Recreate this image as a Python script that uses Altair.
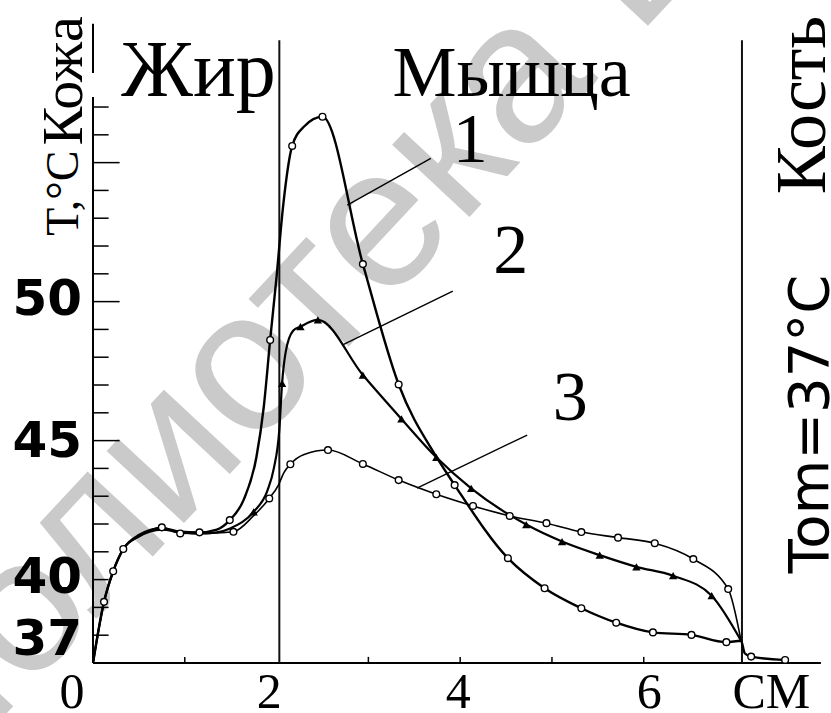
import altair as alt
import pandas as pd

# ---------------- data ----------------
# curve 1 (open circles, highest peak)
c1_x = [0, 0.12, 0.22, 0.33, 0.5, 0.75, 0.95, 1.16, 1.35, 1.49, 1.64, 1.78, 1.86, 1.93, 2.0, 2.07,
        2.17, 2.3, 2.5, 2.94, 3.33, 3.74, 3.94, 4.52, 4.92, 5.32, 5.70, 6.10, 6.52, 6.90, 7.06,
        7.10, 7.17, 7.54]
c1_y = [37, 39.2, 40.3, 41.1, 41.6, 41.85, 41.72, 41.7, 41.8, 42.14, 42.86, 44.4, 46.2, 48.62, 50.9,
        53.4, 55.6, 56.3, 56.65, 51.35, 47.02, 44.42, 43.4, 40.77, 39.69, 38.97, 38.45, 38.10, 38.01,
        37.75, 37.8, 37.35, 37.23, 37.11]
c1_mk = [0, 0, 0, 0, 0, 0, 0, 0, 0, 1, 0, 0, 0, 1, 0, 0, 1, 0, 1, 1, 1, 0, 1, 1, 1, 1, 1, 1, 1, 1, 0,
         0, 1, 1]

# curve 2 (filled triangles)
c2_x = [0, 0.12, 0.22, 0.33, 0.5, 0.75, 0.95, 1.16, 1.35, 1.5, 1.75, 1.9, 1.97, 2.03, 2.06, 2.1,
        2.18, 2.26, 2.45, 2.94, 3.36, 3.74, 4.12, 4.72, 5.11, 5.52, 5.92, 6.32, 6.74, 7.06]
c2_y = [37, 39.2, 40.3, 41.1, 41.55, 41.8, 41.7, 41.65, 41.7, 41.85, 42.44, 43.2, 44.0, 45.4, 47.06,
        48.2, 48.95, 49.1, 49.34, 47.36, 45.78, 44.4, 43.28, 41.98, 41.37, 40.88, 40.46, 40.14, 39.42,
        37.8]
c2_mk = [0, 0, 0, 0, 0, 0, 0, 0, 0, 0, 1, 0, 0, 0, 1, 0, 0, 1, 1, 1, 1, 1, 1, 1, 1, 1, 1, 1, 1, 0]

# curve 3 (open circles, lowest peak)
c3_x = [0, 0.12, 0.22, 0.33, 0.5, 0.75, 0.95, 1.16, 1.35, 1.53, 1.75, 1.92, 2.02, 2.08, 2.15, 2.3,
        2.56, 2.94, 3.33, 3.74, 4.14, 4.54, 4.94, 5.32, 5.72, 6.12, 6.54, 6.92, 7.06]
c3_y = [37, 39.2, 40.3, 41.1, 41.55, 41.88, 41.66, 41.7, 41.68, 41.72, 42.3, 42.92, 43.4, 43.85,
        44.15, 44.5, 44.66, 44.16, 43.58, 43.07, 42.65, 42.29, 42.03, 41.71, 41.51, 41.31, 40.74,
        39.66, 37.8]
c3_mk = [0, 1, 1, 1, 0, 1, 1, 1, 0, 1, 0, 1, 0, 0, 1, 0, 1, 1, 1, 1, 1, 1, 1, 1, 1, 1, 1, 1, 0]

# tissue boundaries (cm)
boundary_x = [2.03, 7.07]
boundary_top = 59.4

# leader lines from the curve numbers
lead_x1 = [2.77, 2.72, 3.53]
lead_y1 = [53.47, 48.44, 43.29]
lead_x2 = [3.68, 3.92, 4.73]
lead_y2 = [55.15, 50.38, 45.20]
num_text = ["1", "2", "3"]
num_x = [4.11, 4.55, 5.20]
num_y = [55.02, 51.03, 45.74]

# axis ticks and labels
y_minor = list(range(37, 58))
y_major = [45, 50, 55]
x_minor = [1, 3, 4, 5, 6]
ylab_text = ["37", "40", "45", "50"]
ylab_y = [37.83, 40.05, 44.95, 50.05]
xlab_text = ["0", "2", "4", "6", "СМ"]
xlab_x = [-0.23, 1.92, 3.98, 6.06, 7.39]

# region labels
reg_text = ["Жир", "Мышца"]
reg_x = [1.15, 4.56]

X = alt.Scale(domain=[0, 8.04], nice=False, zero=False)
Y = alt.Scale(domain=[37, 60.85], nice=False, zero=False)


def xy(xf="x", yf="y"):
    return dict(x=alt.X(f"{xf}:Q", scale=X, axis=None), y=alt.Y(f"{yf}:Q", scale=Y, axis=None))


def curve_df(xs, ys, mk):
    return pd.DataFrame({"x": xs, "y": ys, "m": mk})


d1 = curve_df(c1_x, c1_y, c1_mk)
d2 = curve_df(c2_x, c2_y, c2_mk)
d3 = curve_df(c3_x, c3_y, c3_mk)

layers = []

# watermark
wm = pd.DataFrame({"x": [3.59], "y": [54.4], "t": ["Библиотека БГУИР"]})
layers.append(alt.Chart(wm).mark_text(font="Liberation Sans", fontSize=200, angle=313,
                                      color="#cacaca", align="center", baseline="middle")
              .encode(text="t:N", **xy()))

# axes lines
ax_y = pd.DataFrame({"x": [0, 0], "y": [37, 58.22], "y2": [57.36, 60.0]})
layers.append(alt.Chart(ax_y).mark_rule(color="black", strokeWidth=2)
              .encode(y2="y2:Q", **xy()))
ax_x = pd.DataFrame({"x": [0], "x2": [7.93], "y": [37]})
layers.append(alt.Chart(ax_x).mark_rule(color="black", strokeWidth=2)
              .encode(x2="x2:Q", **xy()))

# ticks
ytk = pd.DataFrame({"y": y_minor, "x": [0] * len(y_minor),
                    "x2": [0.29 if v in y_major else 0.17 for v in y_minor]})
layers.append(alt.Chart(ytk).mark_rule(color="black", strokeWidth=1.5)
              .encode(x2="x2:Q", **xy()))
xtk = pd.DataFrame({"x": x_minor, "y": [37] * len(x_minor), "y2": [37.22] * len(x_minor)})
layers.append(alt.Chart(xtk).mark_rule(color="black", strokeWidth=1.5)
              .encode(y2="y2:Q", **xy()))

# boundaries
bd = pd.DataFrame({"x": boundary_x, "y": [37, 37], "y2": [boundary_top, boundary_top]})
layers.append(alt.Chart(bd).mark_rule(color="#111111", strokeWidth=2)
              .encode(y2="y2:Q", **xy()))

# leader lines
ld = pd.DataFrame({"x": lead_x1, "y": lead_y1, "x2": lead_x2, "y2": lead_y2})
layers.append(alt.Chart(ld).mark_rule(color="black", strokeWidth=1.4)
              .encode(x2="x2:Q", y2="y2:Q", **xy()))

# curves
for d, w in [(d3, 1.6), (d2, 2.2), (d1, 2.4)]:
    layers.append(alt.Chart(d).mark_line(color="black", strokeWidth=w, interpolate="monotone")
                  .encode(order="x:Q", **xy()))

for d in [d1, d3]:
    layers.append(alt.Chart(d).transform_filter("datum.m == 1")
                  .mark_point(shape="circle", size=45, filled=True, fill="white",
                              stroke="black", strokeWidth=1.4, opacity=1)
                  .encode(**xy()))
layers.append(alt.Chart(d2).transform_filter("datum.m == 1")
              .mark_point(shape="triangle-up", size=70, filled=True, color="black", opacity=1)
              .encode(**xy()))

# curve numbers
nm = pd.DataFrame({"x": num_x, "y": num_y, "t": num_text})
layers.append(alt.Chart(nm).mark_text(font="Liberation Serif", fontSize=70, color="black",
                                      align="center", baseline="alphabetic")
              .encode(text="t:N", **xy()))

# region labels
rg = pd.DataFrame({"x": reg_x, "y": [57.4, 57.4], "t": reg_text})
for i, fs in enumerate([80, 72]):
    layers.append(alt.Chart(rg.iloc[[i]]).mark_text(font="Liberation Serif", fontSize=fs,
                                                    color="black", align="center",
                                                    baseline="alphabetic")
                  .encode(text="t:N", **xy()))

# rotated labels
rot = pd.DataFrame({"x": [-0.12, -0.16, 7.98], "y": [57.94, 53.9, 57.07],
                    "t": ["Кожа", "T,°C", "Кость"]})
for i, fs in enumerate([58, 46, 72]):
    layers.append(alt.Chart(rot.iloc[[i]]).mark_text(font="Liberation Serif", fontSize=fs,
                                                     angle=270, color="black", align="center",
                                                     baseline="alphabetic")
                  .encode(text="t:N", **xy()))
tom = pd.DataFrame({"x": [8.01], "y": [45.6], "t": ["Tom=37°C"]})
layers.append(alt.Chart(tom).mark_text(font="DejaVu Sans", fontSize=56, angle=270, color="black",
                                       align="center", baseline="alphabetic")
              .encode(text="t:N", **xy()))

# tick labels
yl = pd.DataFrame({"y": ylab_y, "x": [-0.12] * 4, "t": ylab_text})
layers.append(alt.Chart(yl).mark_text(font="DejaVu Sans", fontSize=50, fontWeight="bold",
                                      color="black", align="right", baseline="middle")
              .encode(text="t:N", **xy()))
xl = pd.DataFrame({"x": xlab_x, "y": [35.38] * 5, "t": xlab_text})
layers.append(alt.Chart(xl).mark_text(font="Liberation Serif", fontSize=50, color="black",
                                      align="center", baseline="alphabetic")
              .encode(text="t:N", **xy()))

chart = alt.layer(*layers).properties(
    width=738, height=663,
    padding={"left": 93, "top": 0, "right": 0, "bottom": 50},
    autosize=alt.AutoSizeParams(type="none"),
    background="white",
).configure_view(stroke=None)

chart.save("out.html", embed_options={"renderer": "svg", "actions": False})
